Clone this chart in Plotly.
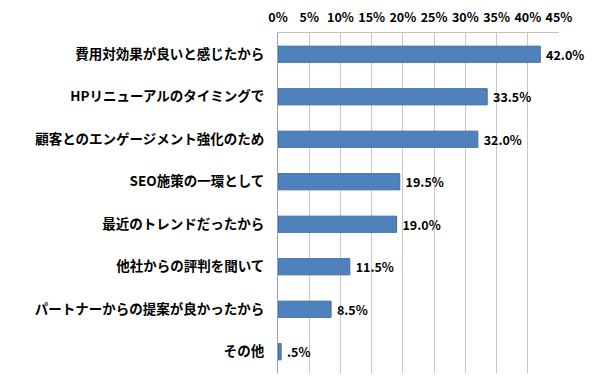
import plotly.graph_objects as go

categories = [
    "費用対効果が良いと感じたから",
    "HPリニューアルのタイミングで",
    "顧客とのエンゲージメント強化のため",
    "SEO施策の一環として",
    "最近のトレンドだったから",
    "他社からの評判を聞いて",
    "パートナーからの提案が良かったから",
    "その他",
]
values = [42.0, 33.5, 32.0, 19.5, 19.0, 11.5, 8.5, 0.5]
value_labels = ["42.0%", "33.5%", "32.0%", "19.5%", "19.0%", "11.5%", "8.5%", ".5%"]
tick_vals = [0, 5, 10, 15, 20, 25, 30, 35, 40, 45]
tick_text = ["0%", "5%", "10%", "15%", "20%", "25%", "30%", "35%", "40%", "45%"]

font_family = "Noto Sans CJK JP"

fig = go.Figure(
    go.Bar(
        x=values,
        y=categories,
        orientation="h",
        marker=dict(color="#4F81BD", line=dict(color="#3C6CA8", width=1)),
        text=value_labels,
        texttemplate=" %{text}",
        textposition="outside",
        constraintext="none",
        cliponaxis=False,
        textfont=dict(family=font_family, size=12.5, color="#000000", weight="bold"),
    )
)

fig.update_layout(
    width=600,
    height=388,
    margin=dict(l=270, r=49, t=25, b=23),
    paper_bgcolor="white",
    plot_bgcolor="white",
    bargap=0.62,
    showlegend=False,
    font=dict(family=font_family, color="#000000"),
)

fig.update_xaxes(
    side="top",
    range=[0, 45],
    tickvals=tick_vals,
    ticktext=tick_text,
    tickfont=dict(family=font_family, size=12.5, color="#000000", weight="bold"),
    showgrid=True,
    gridcolor="#C8C8C8",
    gridwidth=1,
    showline=True,
    linecolor="#C0C0C0",
    linewidth=1,
    zeroline=False,
    ticks="",
    ticklabelstandoff=5,
    automargin=False,
)

fig.update_yaxes(
    categoryorder="array",
    categoryarray=categories[::-1],
    tickfont=dict(family=font_family, size=13.5, color="#000000", weight="bold"),
    showline=True,
    linecolor="#A0A0A0",
    linewidth=1,
    ticks="",
    ticklabelstandoff=10,
    automargin=False,
)

fig.write_html("out.html")
